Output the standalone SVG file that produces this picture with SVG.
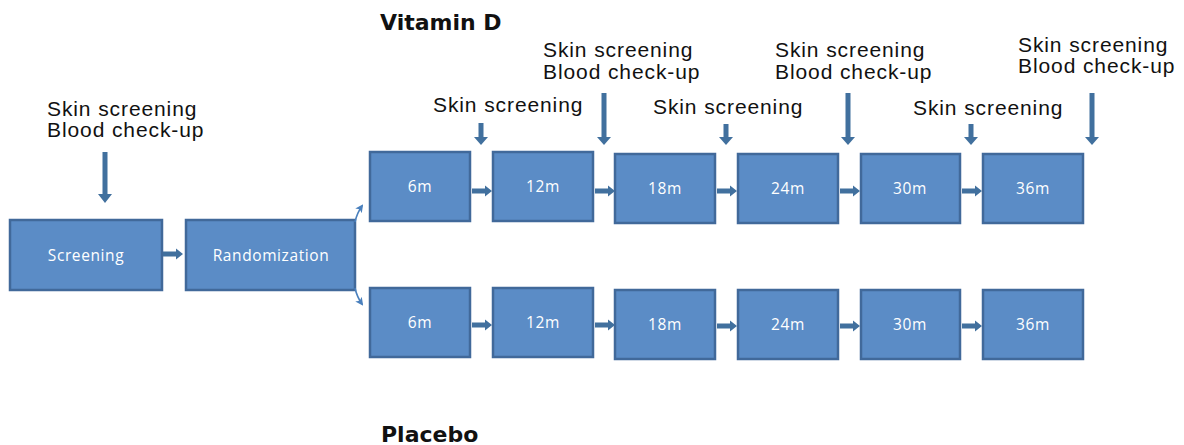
<svg xmlns="http://www.w3.org/2000/svg" width="1184" height="445" viewBox="0 0 1184 445">
<defs>
<style>
.box{fill:#5b8cc6;stroke:#41699a;stroke-width:2.5}
.bl{font-family:"Open Sans","Liberation Sans",sans-serif;font-size:15.5px;fill:#ffffff;text-anchor:middle;letter-spacing:0.6px}
.lab{font-family:"Liberation Sans",Arial,sans-serif;font-size:21px;fill:#111111;letter-spacing:0.9px}
.title{font-family:"DejaVu Sans",Verdana,sans-serif;font-size:22px;font-weight:bold;fill:#111111}
.arr{fill:#41709e}
.thin{fill:none;stroke:#4a80bd;stroke-width:1.6}
</style>
<marker id="ah" markerWidth="8" markerHeight="8" refX="6" refY="4" orient="auto" markerUnits="userSpaceOnUse">
<path d="M0,0 L8,4 L0,8 L2,4 Z" fill="#4a80bd"/>
</marker>
<path id="ha" d="M0,-2.5 H13 V-5.5 L20,0 L13,5.5 V2.5 H0 Z"/>
</defs>

<text class="title" x="380" y="30">Vitamin D</text>
<text class="title" x="381" y="442">Placebo</text>

<g id="labels">
<text class="lab" x="47" y="116">Skin screening</text>
<text class="lab" x="47" y="137">Blood check-up</text>
<text class="lab" x="433" y="112">Skin screening</text>
<text class="lab" x="543" y="57">Skin screening</text>
<text class="lab" x="543" y="79">Blood check-up</text>
<text class="lab" x="653" y="114">Skin screening</text>
<text class="lab" x="775" y="57">Skin screening</text>
<text class="lab" x="775" y="79">Blood check-up</text>
<text class="lab" x="913" y="115">Skin screening</text>
<text class="lab" x="1018" y="52">Skin screening</text>
<text class="lab" x="1018" y="73">Blood check-up</text>
</g>

<g id="screening"><rect class="box" x="10" y="220" width="152" height="70"/><text class="bl" x="86" y="261">Screening</text></g>
<g id="randomization"><rect class="box" x="186" y="220" width="169" height="70"/><text class="bl" x="271" y="261">Randomization</text></g>

<g id="v6"><rect class="box" x="370" y="152" width="100" height="69"/><text class="bl" x="420" y="192">6m</text></g>
<g id="v12"><rect class="box" x="493" y="152" width="100" height="69"/><text class="bl" x="543" y="192">12m</text></g>
<g id="v18"><rect class="box" x="615" y="154" width="100" height="69"/><text class="bl" x="665" y="194">18m</text></g>
<g id="v24"><rect class="box" x="738" y="154" width="100" height="69"/><text class="bl" x="788" y="194">24m</text></g>
<g id="v30"><rect class="box" x="861" y="154" width="99" height="69"/><text class="bl" x="910" y="194">30m</text></g>
<g id="v36"><rect class="box" x="983" y="154" width="100" height="69"/><text class="bl" x="1033" y="194">36m</text></g>

<g id="p6"><rect class="box" x="370" y="288" width="100" height="69"/><text class="bl" x="420" y="328">6m</text></g>
<g id="p12"><rect class="box" x="493" y="288" width="100" height="69"/><text class="bl" x="543" y="328">12m</text></g>
<g id="p18"><rect class="box" x="615" y="290" width="100" height="69"/><text class="bl" x="665" y="330">18m</text></g>
<g id="p24"><rect class="box" x="738" y="290" width="100" height="69"/><text class="bl" x="788" y="330">24m</text></g>
<g id="p30"><rect class="box" x="861" y="290" width="99" height="69"/><text class="bl" x="910" y="330">30m</text></g>
<g id="p36"><rect class="box" x="983" y="290" width="100" height="69"/><text class="bl" x="1033" y="330">36m</text></g>

<g id="connectors">
<use href="#ha" class="arr" transform="translate(163,254)"/>
<use href="#ha" class="arr" transform="translate(472,191)"/>
<use href="#ha" class="arr" transform="translate(595,191)"/>
<use href="#ha" class="arr" transform="translate(717,191)"/>
<use href="#ha" class="arr" transform="translate(840,191)"/>
<use href="#ha" class="arr" transform="translate(962,191)"/>
<use href="#ha" class="arr" transform="translate(472,325)"/>
<use href="#ha" class="arr" transform="translate(595,325)"/>
<use href="#ha" class="arr" transform="translate(717,326)"/>
<use href="#ha" class="arr" transform="translate(840,326)"/>
<use href="#ha" class="arr" transform="translate(962,326)"/>
<path class="arr" d="M102.5,152 H107.5 V194 H112 L105,203 L98,194 H102.5 Z"/>
<path class="arr" d="M478.5,123 H483.5 V137 H488 L481,145 L474,137 H478.5 Z"/>
<path class="arr" d="M601.5,93 H606.5 V137 H611 L604,145 L597,137 H601.5 Z"/>
<path class="arr" d="M723.5,124 H728.5 V137 H733 L726,145 L719,137 H723.5 Z"/>
<path class="arr" d="M845.5,93 H850.5 V137 H855 L848,145 L841,137 H845.5 Z"/>
<path class="arr" d="M968.5,124 H973.5 V137 H978 L971,145 L964,137 H968.5 Z"/>
<path class="arr" d="M1089.5,93 H1094.5 V137 H1099 L1092,145 L1085,137 H1089.5 Z"/>
<path class="thin" d="M355,222 Q357,213 362,206" marker-end="url(#ah)"/>
<path class="thin" d="M355,288 Q357,297 362,304" marker-end="url(#ah)"/>
</g>
</svg>
